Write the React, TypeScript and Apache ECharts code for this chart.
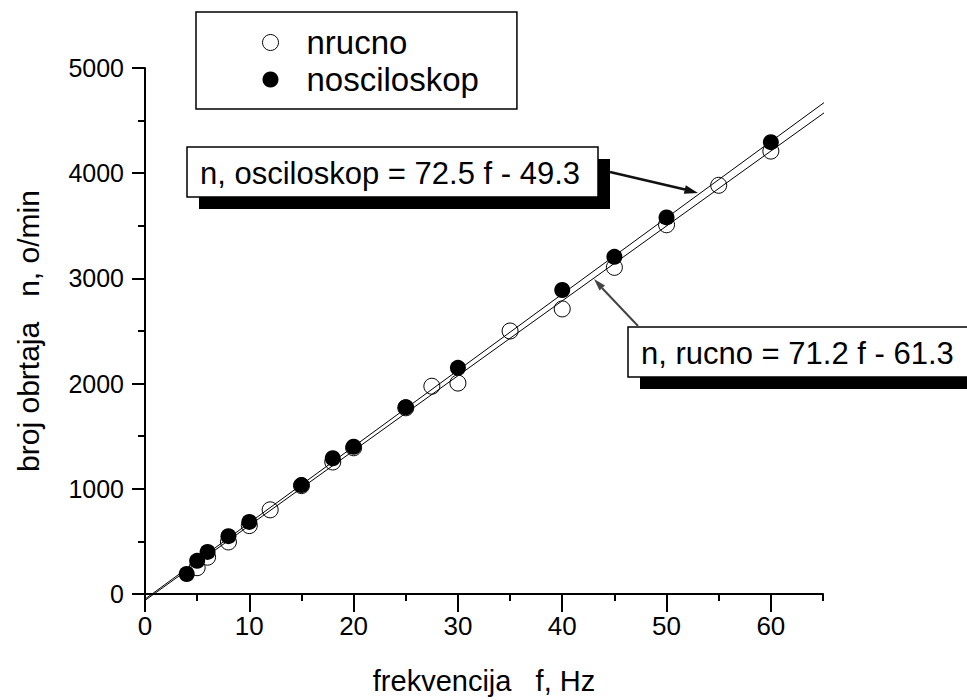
import React, { useEffect, useRef } from "react";
import * as echarts from "echarts";

const FONT = "'Liberation Sans', Arial, Helvetica, sans-serif";

// x-axis tick labels (Hz) and y-axis range (o/min)
const xTickLabels = [0, 10, 20, 30, 40, 50, 60];
const yTickLabels = [0, 1000, 2000, 3000, 4000, 5000];

// measured with oscilloscope (filled)
const fOsc = [4, 5, 6, 8, 10, 15, 18, 20, 25, 30, 40, 45, 50, 60];
const nOsc = [190, 315, 400, 550, 685, 1035, 1290, 1400, 1775, 2150, 2890, 3205, 3580, 4295];

// measured manually (open)
const fRuc = [5, 6, 8, 10, 12, 15, 18, 20, 25, 27.5, 30, 35, 40, 45, 50, 55, 60];
const nRuc = [250, 350, 495, 650, 800, 1030, 1255, 1390, 1770, 1975, 2005, 2500, 2710, 3105, 3510, 3885, 4210];

// fitted lines, end points (f, n)
const fitF = [-1.7, 65.5];
const fitOscN = [-172, 4700];
const fitRucN = [-182, 4602];

const legendNames = ["nrucno", "nosciloskop"];
const eqOsc = "n, osciloskop = 72.5 f - 49.3";
const eqRuc = "n, rucno = 71.2 f - 61.3";

export default function App() {
  const ref = useRef<HTMLDivElement>(null);
  useEffect(() => {
    if (!ref.current) return;
    const chart = echarts.init(ref.current, null, { renderer: "svg" });
    const oscData = fOsc.map((f, i) => [f, nOsc[i]]);
    const rucData = fRuc.map((f, i) => [f, nRuc[i]]);
    const oscLine = fitF.map((f, i) => [f, fitOscN[i]]);
    const rucLine = fitF.map((f, i) => [f, fitRucN[i]]);
    const axisLineStyle = { color: "#000", width: 2 };
    chart.setOption({
      animation: false,
      backgroundColor: "#fff",
      textStyle: { fontFamily: FONT },
      grid: [
        { left: 145, top: 68, width: 678, height: 531 },
        { left: 145, top: 68, width: (678 * 60) / 65, height: 531 },
      ],
      xAxis: [
        {
          gridIndex: 0,
          type: "value",
          min: 0,
          max: 65,
          interval: 5,
          axisLine: { lineStyle: axisLineStyle },
          axisTick: { length: 7, lineStyle: axisLineStyle },
          axisLabel: {
            fontSize: 26,
            color: "#000",
            fontFamily: FONT,
            margin: 19,
            formatter: (v: number) => (xTickLabels.indexOf(v) >= 0 ? String(v) : ""),
          },
          splitLine: { show: false },
          name: "frekvencija   f, Hz",
          nameLocation: "middle",
          nameGap: 72,
          nameTextStyle: { fontSize: 29, color: "#000", fontFamily: FONT },
        },
        {
          gridIndex: 1,
          type: "value",
          min: 0,
          max: 60,
          interval: 10,
          axisLine: { show: false },
          axisTick: { length: 13, lineStyle: axisLineStyle },
          axisLabel: { show: false },
          splitLine: { show: false },
        },
      ],
      yAxis: [
        {
          gridIndex: 0,
          type: "value",
          min: yTickLabels[0],
          max: yTickLabels[yTickLabels.length - 1],
          interval: 1000,
          axisLine: { lineStyle: axisLineStyle },
          axisTick: { length: 13, lineStyle: axisLineStyle },
          minorTick: { show: true, splitNumber: 2, length: 7, lineStyle: axisLineStyle },
          axisLabel: {
            fontSize: 25,
            color: "#000",
            fontFamily: FONT,
            margin: 21,
            formatter: (v: number) => String(v),
          },
          splitLine: { show: false },
          minorSplitLine: { show: false },
          name: "broj obrtaja   n, o/min",
          nameLocation: "middle",
          nameGap: 102,
          nameTextStyle: { fontSize: 30, color: "#000", fontFamily: FONT },
        },
        { gridIndex: 1, type: "value", min: 0, max: 5000, show: false },
      ],
      legend: {
        data: [
          { name: legendNames[0], itemStyle: { color: "#fff", borderColor: "#000", borderWidth: 1 } },
          { name: legendNames[1], itemStyle: { color: "#000", borderWidth: 0 } },
        ],
        orient: "vertical",
        left: 196,
        top: 12,
        padding: [14, 38, 13, 66],
        itemWidth: 16,
        itemHeight: 16,
        itemGap: 4,
        icon: "circle",
        borderColor: "#000",
        borderWidth: 1.5,
        selectedMode: false,
        textStyle: { fontSize: 33, color: "#000", fontFamily: FONT, padding: [0, 0, 0, 23] },
      },
      series: [
        {
          name: legendNames[0],
          type: "scatter",
          data: rucData,
          symbol: "circle",
          symbolSize: 16,
          itemStyle: { color: "#fff", borderColor: "#000", borderWidth: 1, opacity: 1 },
          z: 2,
        },
        {
          name: legendNames[1],
          type: "scatter",
          data: oscData,
          symbol: "circle",
          symbolSize: 16,
          itemStyle: { color: "#000", opacity: 1 },
          z: 2,
        },
        {
          name: "fitOsc",
          type: "line",
          data: oscLine,
          showSymbol: false,
          symbol: "none",
          clip: false,
          lineStyle: { color: "#000", width: 1 },
          z: 3,
          silent: true,
        },
        {
          name: "fitRuc",
          type: "line",
          data: rucLine,
          showSymbol: false,
          symbol: "none",
          clip: false,
          lineStyle: { color: "#000", width: 1 },
          z: 3,
          silent: true,
        },
      ],
      graphic: [
        // box 1
        { type: "rect", shape: { x: 199, y: 159, width: 411, height: 50 }, style: { fill: "#000" }, z: 10 },
        { type: "rect", shape: { x: 187, y: 147, width: 411, height: 50 }, style: { fill: "#fff", stroke: "#000", lineWidth: 1.5 }, z: 11 },
        {
          type: "text",
          x: 390,
          y: 173,
          style: { text: eqOsc, fontSize: 31, fill: "#000", fontFamily: FONT, align: "center", verticalAlign: "middle" },
          z: 12,
        },
        // arrow 1
        { type: "line", shape: { x1: 610, y1: 172, x2: 685, y2: 189.5 }, style: { stroke: "#111", lineWidth: 2.5 }, z: 12 },
        { type: "polygon", shape: { points: [[698, 193], [685.8, 185.2], [683.8, 193.8]] }, style: { fill: "#111" }, z: 12 },
        // box 2
        { type: "rect", shape: { x: 640, y: 339, width: 360, height: 50 }, style: { fill: "#000" }, z: 10 },
        { type: "rect", shape: { x: 628, y: 327, width: 360, height: 50 }, style: { fill: "#fff", stroke: "#000", lineWidth: 1.5 }, z: 11 },
        {
          type: "text",
          x: 641,
          y: 353,
          style: { text: eqRuc, fontSize: 31, fill: "#000", fontFamily: FONT, align: "left", verticalAlign: "middle" },
          z: 12,
        },
        // arrow 2
        { type: "line", shape: { x1: 638, y1: 326, x2: 602, y2: 288 }, style: { stroke: "#444", lineWidth: 2 }, z: 12 },
        { type: "polygon", shape: { points: [[594, 279], [605, 285.5], [599.5, 290.5]] }, style: { fill: "#444" }, z: 12 },
      ],
    });
    return () => chart.dispose();
  }, []);
  return (
    <div
      ref={ref}
      style={{ position: "absolute", left: 0, top: 0, width: 967, height: 700, background: "#fff" }}
    />
  );
}
